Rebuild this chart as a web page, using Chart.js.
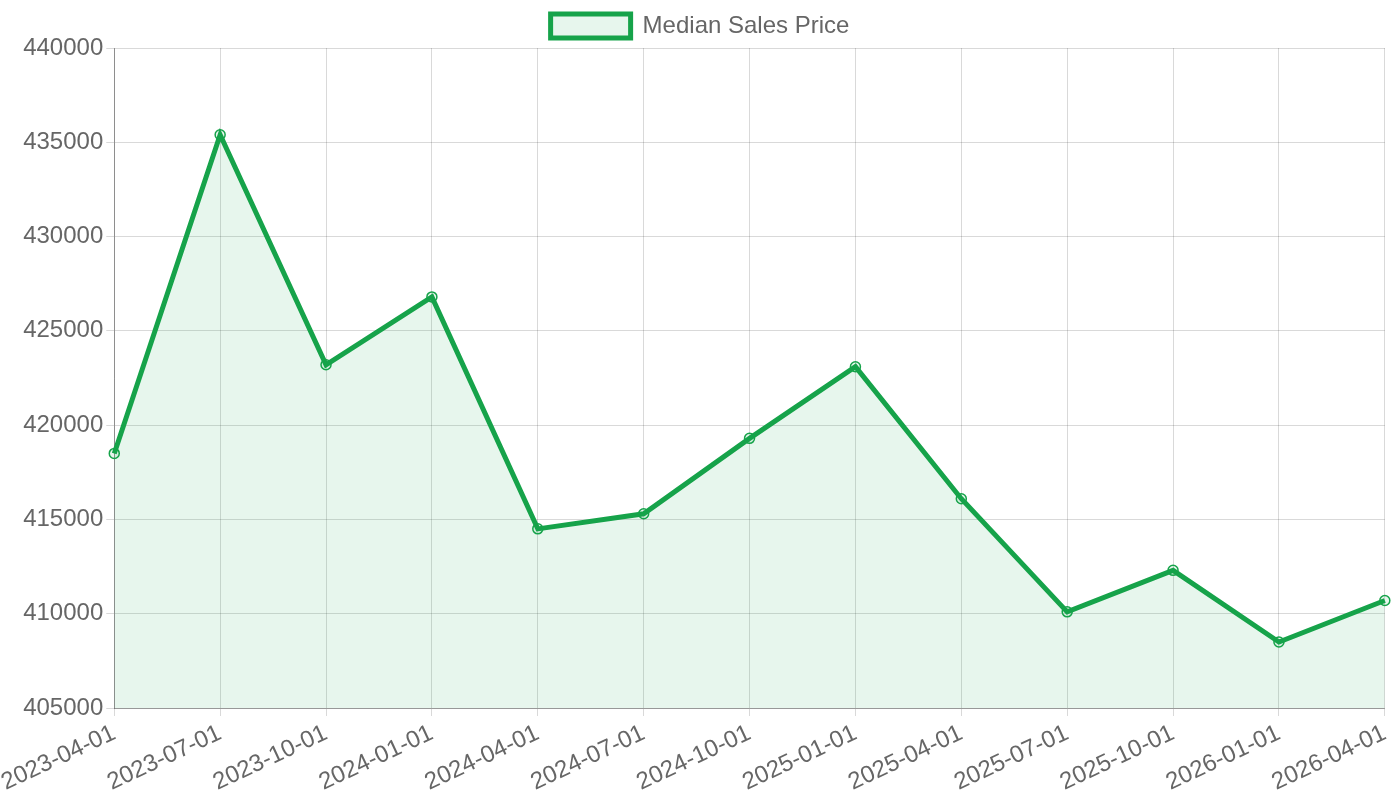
<!DOCTYPE html>
<html>
<head>
<script src="https://cdn.jsdelivr.net/npm/chart.js"></script>
<style>html,body{margin:0;padding:0;background:#fff}#wrap{width:1400px;height:800px}</style>
</head>
<body>
<div id="wrap"><canvas id="myChart"></canvas></div>
<script>
var labels = ["2023-04-01","2023-07-01","2023-10-01","2024-01-01","2024-04-01","2024-07-01","2024-10-01","2025-01-01","2025-04-01","2025-07-01","2025-10-01","2026-01-01","2026-04-01"];
var prices = [418500,435400,423200,426800,414500,415300,419300,423100,416100,410100,412300,408500,410700];

Chart.defaults.font.family = "Liberation Sans, Arial, sans-serif";
Chart.defaults.font.size = 24;
Chart.defaults.color = "#666";

new Chart(document.getElementById("myChart"), {
    type: "line",
    data: {
        labels: labels,
        datasets: [{
            label: "Median Sales Price",
            data: prices,
            borderColor: "#16a34a",
            backgroundColor: "rgba(22,163,74,0.1)",
            borderWidth: 5,
            fill: true,
            tension: 0,
            pointRadius: 5,
            pointBorderWidth: 1.5,
            pointBackgroundColor: "rgba(22,163,74,0.1)"
        }]
    },
    options: {
        responsive: true,
        maintainAspectRatio: false,
        animation: false,
        layout: {padding: {left: 10, right: 10, top: 4}},
        plugins: {
            legend: {labels: {boxWidth: 80, boxHeight: 24}}
        },
        scales: {
            x: {
                ticks: {maxRotation: 25, minRotation: 25},
                grid: {color: "rgba(0,0,0,0.15)"},
                border: {color: "rgba(0,0,0,0.3)"}
            },
            y: {
                min: 405000, max: 440000,
                ticks: {stepSize: 5000, callback: function (v) { return String(v); }},
                grid: {color: "rgba(0,0,0,0.15)"},
                border: {color: "rgba(0,0,0,0.35)"}
            }
        }
    }
});
</script>
</body>
</html>
